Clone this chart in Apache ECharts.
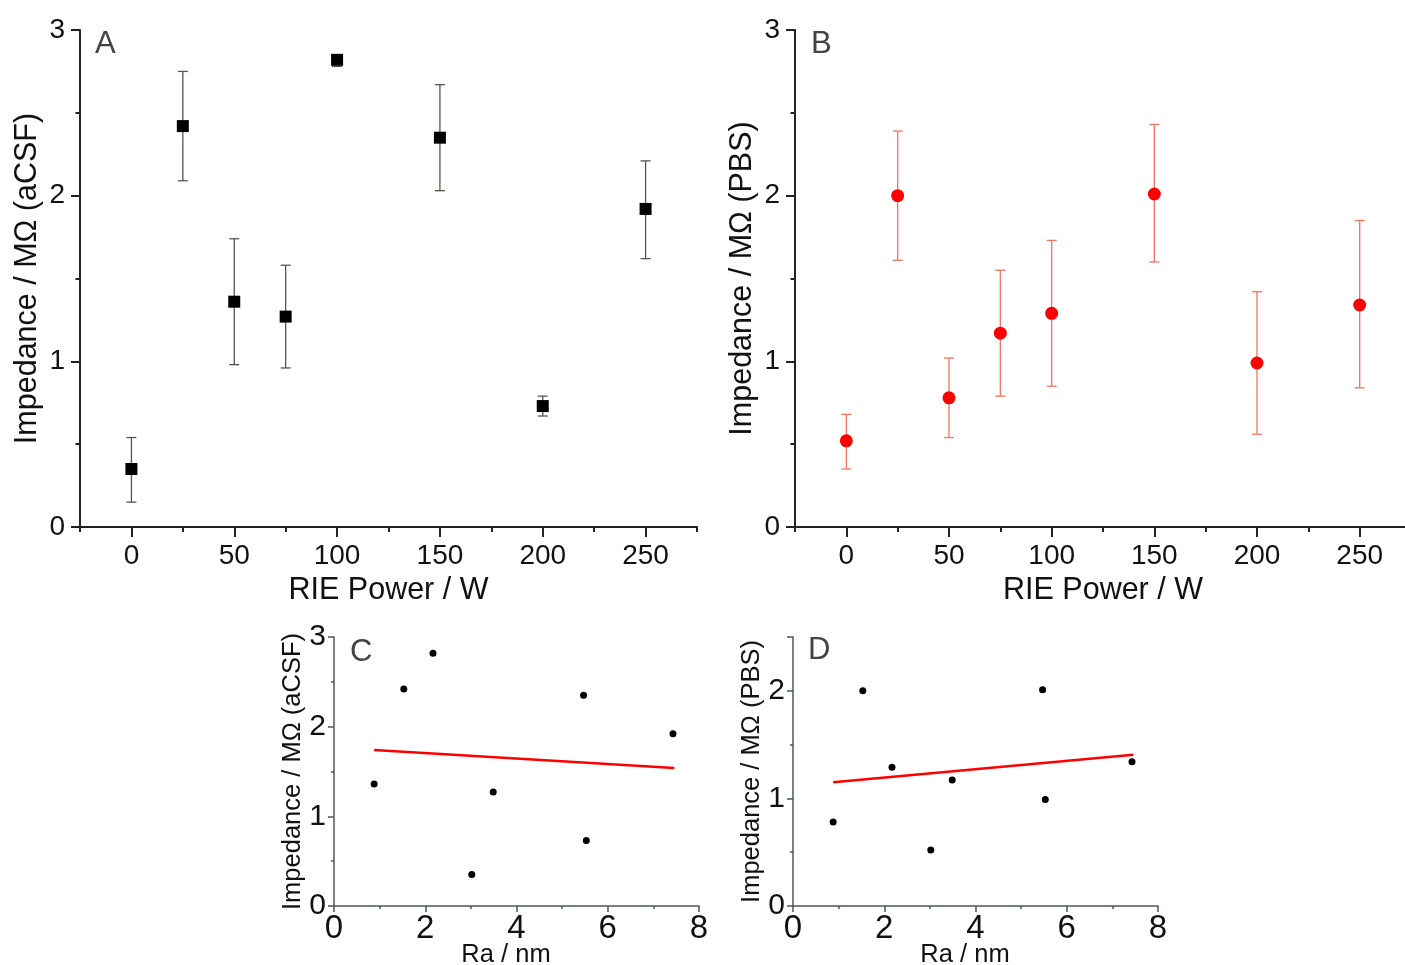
<!DOCTYPE html>
<html>
<head>
<meta charset="utf-8">
<script src="https://cdn.jsdelivr.net/npm/echarts@6/dist/echarts.min.js"></script>
<style>
  html, body { margin: 0; padding: 0; background: #fff; }
  #chart { width: 1405px; height: 965px; }
</style>
</head>
<body>
<div id="chart"></div>
<script>
// RIE power (W) for panels A and B
const powers = [0, 25, 50, 75, 100, 150, 200, 250]

// A: impedance in aCSF (MΩ), mean with error bar ends
const acsfMean = [0.35, 2.42, 1.36, 1.27, 2.82, 2.35, 0.73, 1.92]
const acsfLow = [0.15, 2.09, 0.98, 0.96, 2.78, 2.03, 0.67, 1.62]
const acsfHigh = [0.54, 2.75, 1.74, 1.58, 2.85, 2.67, 0.79, 2.21]

// B: impedance in PBS (MΩ)
const pbsMean = [0.52, 2.0, 0.78, 1.17, 1.29, 2.01, 0.99, 1.34]
const pbsLow = [0.35, 1.61, 0.54, 0.79, 0.85, 1.6, 0.56, 0.84]
const pbsHigh = [0.68, 2.39, 1.02, 1.55, 1.73, 2.43, 1.42, 1.85]

// C/D: surface roughness Ra (nm) per power
const roughness = [3.02, 1.53, 0.88, 3.49, 2.17, 5.47, 5.53, 7.43]

const acsfFit = [[0.88, 1.74], [7.46, 1.54]]
const pbsFit = [[0.88, 1.15], [7.46, 1.405]]

// tick labels
const powerTicks = [0, 50, 100, 150, 200, 250]
const powerMinorTicks = [-25, 25, 75, 125, 175, 225, 275]

const FONT = "'Liberation Sans', Arial, sans-serif"
const chart = echarts.init(document.getElementById('chart'))

const errorBar = (capHalf, color) => (params, api) => {
  const x = api.value(0)
  const lo = api.coord([x, api.value(1)])
  const hi = api.coord([x, api.value(2)])
  const style = { stroke: color, lineWidth: 1.3 }
  return {
    type: 'group',
    children: [
      { type: 'line', shape: { x1: lo[0], y1: lo[1], x2: hi[0], y2: hi[1] }, style },
      { type: 'line', shape: { x1: lo[0] - capHalf, y1: lo[1], x2: lo[0] + capHalf, y2: lo[1] }, style },
      { type: 'line', shape: { x1: hi[0] - capHalf, y1: hi[1], x2: hi[0] + capHalf, y2: hi[1] }, style }
    ]
  }
}

// big panels: x axis + an overlay for the short ticks
function powerAxes(grid) {
  const line = { color: '#222', width: 2 }
  return [
    {
      gridIndex: grid, type: 'value', position: 'bottom', min: -25, max: 275, interval: 25,
      name: 'RIE Power / W', nameLocation: 'middle', nameGap: 41,
      nameTextStyle: { fontFamily: FONT, fontSize: 30.5, color: '#111' },
      axisLine: { show: true, onZero: false, lineStyle: line },
      axisTick: { show: true, length: 10, lineStyle: line, customValues: powerTicks },
      axisLabel: { margin: 15, fontFamily: FONT, fontSize: 28, color: '#111', customValues: powerTicks },
      splitLine: { show: false }
    },
    {
      gridIndex: grid, type: 'value', position: 'bottom', min: -25, max: 275, interval: 25,
      axisLine: { show: false, onZero: false },
      axisTick: { show: true, length: 5, lineStyle: line, customValues: powerMinorTicks },
      axisLabel: { show: false },
      splitLine: { show: false }
    }
  ]
}

function impedanceAxis(grid, name, max, opts) {
  const line = { color: opts.color, width: opts.width }
  return {
    gridIndex: grid, type: 'value', min: 0, max: max, interval: 1,
    name: name, nameLocation: 'middle', nameGap: opts.nameGap, nameRotate: 90,
    nameMoveOverlap: false,
    nameTextStyle: { fontFamily: FONT, fontSize: opts.nameSize, color: '#111' },
    axisLine: { show: true, onZero: false, lineStyle: line },
    axisTick: { show: true, length: opts.tick, lineStyle: line },
    minorTick: { show: true, splitNumber: 2, length: opts.tick / 2, lineStyle: line },
    axisLabel: {
      margin: opts.margin, fontFamily: FONT, fontSize: opts.labelSize, color: '#111',
      formatter: v => (Number.isInteger(v) ? String(v) : '')
    },
    splitLine: { show: false }
  }
}

function raAxis(grid) {
  const line = { color: '#4b5b4b', width: 1.5 }
  return {
    gridIndex: grid, type: 'value', min: 0, max: 8, interval: 2,
    name: 'Ra / nm', nameLocation: 'middle', nameGap: 36, nameMoveOverlap: false,
    nameTextStyle: { fontFamily: FONT, fontSize: 25.5, color: '#111', padding: [0, 21, 0, 0] },
    axisLine: { show: true, onZero: false, lineStyle: line },
    axisTick: { show: true, length: 6, lineStyle: line },
    minorTick: { show: true, splitNumber: 2, length: 3, lineStyle: line },
    axisLabel: { margin: 6, fontFamily: FONT, fontSize: 33, color: '#111' },
    splitLine: { show: false }
  }
}

const bigY = { color: '#222', width: 2, tick: 9, nameGap: 37, nameSize: 30.5, margin: 15, labelSize: 28 }
const smallY = { color: '#4b5b4b', width: 1.5, tick: 6, nameGap: 28, nameSize: 25.5, margin: 8, labelSize: 30 }

const panelLabel = (text, left, top) => ({
  type: 'text', left: left, top: top,
  style: { text: text, fontFamily: FONT, fontSize: 31, fill: '#444' }
})

const option = {
  animation: false,
  backgroundColor: '#fff',
  grid: [
    { left: 80, top: 30, width: 617, height: 497, outerBoundsMode: 'none' },
    { left: 795, top: 30, width: 616, height: 497, outerBoundsMode: 'none' },
    { left: 334, top: 637, width: 365, height: 269, outerBoundsMode: 'none' },
    { left: 793, top: 637, width: 365, height: 269, outerBoundsMode: 'none' }
  ],
  xAxis: [...powerAxes(0), ...powerAxes(1), raAxis(2), raAxis(3)],
  yAxis: [
    impedanceAxis(0, 'Impedance / MΩ (aCSF)', 3, bigY),
    impedanceAxis(1, 'Impedance / MΩ (PBS)', 3, bigY),
    impedanceAxis(2, 'Impedance / MΩ (aCSF)', 3, smallY),
    impedanceAxis(3, 'Impedance / MΩ (PBS)', 2.5, smallY)
  ],
  graphic: [
    panelLabel('A', 95, 29),
    panelLabel('B', 811, 29),
    panelLabel('C', 350, 637),
    panelLabel('D', 808, 635)
  ],
  series: [
    {
      type: 'custom', xAxisIndex: 0, yAxisIndex: 0, z: 2,
      renderItem: errorBar(5, '#55574a'),
      data: powers.map((p, i) => [p, acsfLow[i], acsfHigh[i]])
    },
    {
      type: 'scatter', xAxisIndex: 0, yAxisIndex: 0, z: 3,
      symbol: 'rect', symbolSize: 12,
      itemStyle: { color: '#000', opacity: 1 },
      data: powers.map((p, i) => [p, acsfMean[i]])
    },
    {
      type: 'custom', xAxisIndex: 2, yAxisIndex: 1, z: 2,
      renderItem: errorBar(5, '#f3745f'),
      data: powers.map((p, i) => [p, pbsLow[i], pbsHigh[i]])
    },
    {
      type: 'scatter', xAxisIndex: 2, yAxisIndex: 1, z: 3,
      symbol: 'circle', symbolSize: 13,
      itemStyle: { color: '#ff0000', opacity: 1 },
      data: powers.map((p, i) => [p, pbsMean[i]])
    },
    {
      type: 'scatter', xAxisIndex: 4, yAxisIndex: 2,
      symbol: 'circle', symbolSize: 7,
      itemStyle: { color: '#000', opacity: 1 },
      data: roughness.map((r, i) => [r, acsfMean[i]])
    },
    {
      type: 'line', xAxisIndex: 4, yAxisIndex: 2,
      showSymbol: false, lineStyle: { color: '#ff0000', width: 2.5 },
      data: acsfFit
    },
    {
      type: 'scatter', xAxisIndex: 5, yAxisIndex: 3,
      symbol: 'circle', symbolSize: 7,
      itemStyle: { color: '#000', opacity: 1 },
      data: roughness.map((r, i) => [r, pbsMean[i]])
    },
    {
      type: 'line', xAxisIndex: 5, yAxisIndex: 3,
      showSymbol: false, lineStyle: { color: '#ff0000', width: 2.5 },
      data: pbsFit
    }
  ]
}

chart.setOption(option)
</script>
</body>
</html>
